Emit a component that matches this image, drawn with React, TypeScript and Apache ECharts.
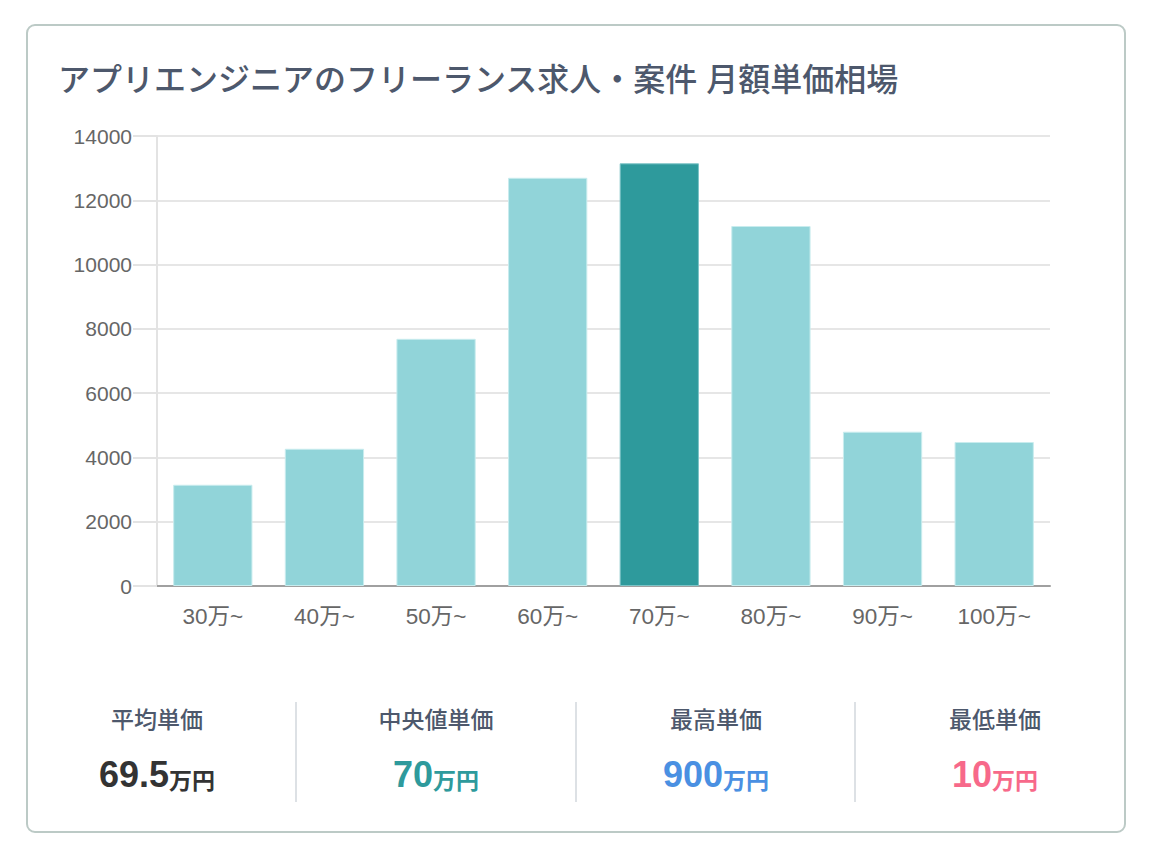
import React, { useEffect, useRef } from "react";
import * as echarts from "echarts";

const TITLE = "アプリエンジニアのフリーランス求人・案件 月額単価相場";
const categories = ["30万~", "40万~", "50万~", "60万~", "70万~", "80万~", "90万~", "100万~"];
const counts = [3150, 4270, 7690, 12700, 13150, 11200, 4800, 4480];
const highlightIndex = 4;
const yTicks = { min: 0, max: 14000, interval: 2000 };

const statLabels = ["平均単価", "中央値単価", "最高単価", "最低単価"];
const statValues = ["69.5", "70", "900", "10"];
const statUnit = "万円";
const statColors = ["#333333", "#2e9a9c", "#4a90e2", "#f7698a"];

const FONT = '"Liberation Sans", Arial, "Noto Sans CJK JP", sans-serif';
const LIGHT = "#91d4d9";
const DARK = "#2e9a9c";

export default function App() {
  const ref = useRef<HTMLDivElement>(null);

  useEffect(() => {
    document.body.style.margin = "0";
    const chart = echarts.init(ref.current!, null, { renderer: "svg" });

    const colCenters = [157, 436, 716, 995];
    const dividers = [296, 576, 855];

    const graphics: any[] = [
      {
        type: "rect",
        shape: { x: 27, y: 25, width: 1098, height: 807, r: 8 },
        style: { fill: "none", stroke: "#bccac6", lineWidth: 2 },
        z: -1,
      },
      ...dividers.map((x) => ({
        type: "line",
        shape: { x1: x, y1: 702, x2: x, y2: 802 },
        style: { stroke: "#dde1e5", lineWidth: 2 },
      })),
      ...statLabels.map((t, i) => ({
        type: "text",
        x: colCenters[i],
        y: 720,
        style: {
          text: t,
          fill: "#4d586c",
          font: `500 23px ${FONT}`,
          align: "center",
          verticalAlign: "middle",
        },
      })),
      ...statValues.map((v, i) => ({
        type: "text",
        x: colCenters[i],
        y: 772,
        style: {
          text: `{num|${v}}{unit|${statUnit}}`,
          align: "center",
          verticalAlign: "middle",
          rich: {
            num: { fontSize: 36, fontWeight: "bold", fill: statColors[i], fontFamily: FONT, verticalAlign: "bottom", lineHeight: 40 },
            unit: { fontSize: 23, fontWeight: "bold", fill: statColors[i], fontFamily: FONT, verticalAlign: "bottom", lineHeight: 36 },
          },
        },
      })),
    ];

    chart.setOption({
      animation: false,
      title: {
        text: TITLE,
        left: 53,
        top: 59,
        textStyle: { fontSize: 32, fontWeight: 500, color: "#4d586c", fontFamily: FONT },
      },
      grid: { left: 157, right: 100, top: 136, bottom: 264 },
      xAxis: {
        type: "category",
        data: categories,
        axisLine: { lineStyle: { color: "#a0a0a0", width: 2 } },
        axisTick: { show: false },
        axisLabel: { color: "#666666", fontSize: 22.5, fontFamily: FONT, margin: 19 },
      },
      yAxis: {
        type: "value",
        min: yTicks.min,
        max: yTicks.max,
        interval: yTicks.interval,
        axisLine: { show: true, lineStyle: { color: "#e3e3e3", width: 2 } },
        axisTick: { show: true, length: 24, lineStyle: { color: "#e3e3e3", width: 2 } },
        splitLine: { lineStyle: { color: "#e6e6e6", width: 2 } },
        axisLabel: {
          color: "#666666",
          fontSize: 21,
          fontFamily: FONT,
          margin: 25,
          formatter: (v: number) => String(v),
        },
      },
      series: [
        {
          type: "bar",
          barWidth: "71%",
          data: counts.map((v, i) => ({
            value: v,
            itemStyle: {
              color: i === highlightIndex ? DARK : LIGHT,
              borderColor: i === highlightIndex ? "#7cc3c6" : "#c8ecee",
              borderWidth: 1,
            },
          })),
        },
      ],
      graphic: graphics,
    });

    return () => chart.dispose();
  }, []);

  return <div ref={ref} style={{ width: 1150, height: 850 }} />;
}
